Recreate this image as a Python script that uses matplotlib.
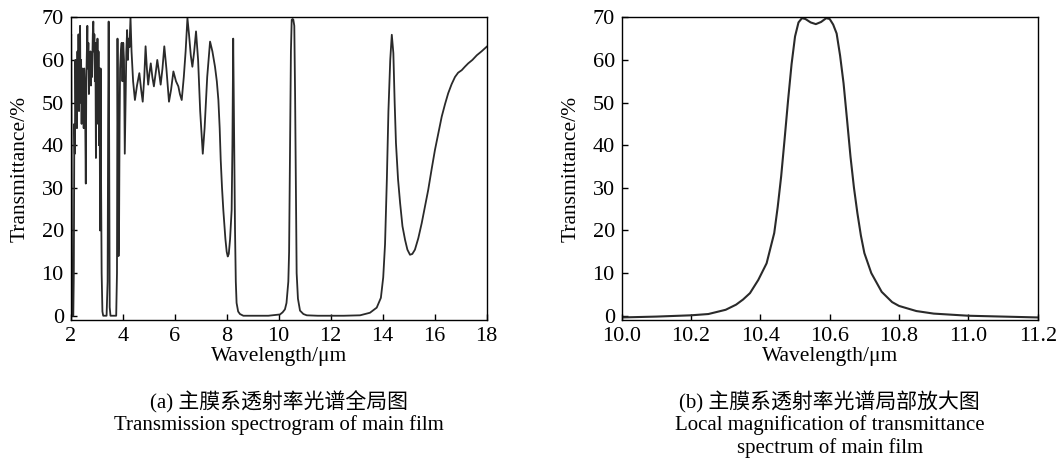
import matplotlib.pyplot as plt

plt.rcParams['font.family'] = ['Liberation Serif', 'Noto Sans CJK SC']

# (a) full spectrum, wavelength in um / transmittance in %
wl_full = [2.00, 2.02, 2.04, 2.06, 2.10, 2.12, 2.14, 2.16, 2.18, 2.20, 2.22, 2.24, 2.26, 2.28,
           2.30, 2.32, 2.34, 2.36, 2.38, 2.40, 2.42, 2.44, 2.46, 2.48, 2.50, 2.52, 2.55, 2.58,
           2.60, 2.62, 2.64, 2.66, 2.68, 2.70, 2.72, 2.74, 2.76, 2.78, 2.80, 2.82, 2.85, 2.87,
           2.89, 2.91, 2.93, 2.95, 2.97, 2.99, 3.01, 3.03, 3.05, 3.07, 3.09, 3.11, 3.13, 3.15,
           3.17, 3.19, 3.22, 3.25, 3.38, 3.42, 3.44, 3.46, 3.48, 3.50, 3.53, 3.75, 3.78, 3.80,
           3.82, 3.84, 3.86, 3.88, 3.90, 3.93, 3.96, 3.99, 4.02, 4.05, 4.08, 4.11, 4.14, 4.17,
           4.20, 4.23, 4.26, 4.30, 4.34, 4.40, 4.47, 4.55, 4.64, 4.71, 4.77, 4.83, 4.88, 4.93,
           4.98, 5.03, 5.08, 5.14, 5.20, 5.27, 5.33, 5.40, 5.46, 5.53, 5.60, 5.68, 5.78, 5.86,
           5.95, 6.05, 6.14, 6.20, 6.27, 6.35, 6.42, 6.49, 6.55, 6.62, 6.68, 6.75, 6.82, 6.90,
           6.98, 7.08, 7.15, 7.25, 7.36, 7.45, 7.55, 7.62, 7.68, 7.73, 7.77, 7.82, 7.87, 7.95,
           8.00, 8.04, 8.08, 8.13, 8.19, 8.22, 8.25, 8.28, 8.32, 8.35, 8.38, 8.44, 8.51, 8.64,
           9.00, 9.60, 10.05, 10.15, 10.24, 10.30, 10.37, 10.40, 10.43, 10.47, 10.50, 10.53,
           10.56, 10.60, 10.63, 10.66, 10.69, 10.74, 10.82, 10.95, 11.08, 11.50, 12.50, 13.13,
           13.51, 13.77, 13.93, 14.02, 14.09, 14.16, 14.22, 14.29, 14.35, 14.41, 14.46, 14.51,
           14.59, 14.67, 14.76, 14.86, 14.95, 15.05, 15.14, 15.24, 15.37, 15.50, 15.62, 15.75,
           15.88, 16.01, 16.14, 16.27, 16.40, 16.52, 16.65, 16.78, 16.90, 17.04, 17.16, 17.29,
           17.45, 17.62, 17.80, 18.00]
tr_full = [64, 66, 30, 0, 0, 10, 45, 38, 60, 48, 58, 44, 62, 50,
           66, 48, 56, 68, 50, 60, 45, 58, 48, 56, 44, 58, 52, 31,
           55, 62, 68, 58, 64, 52, 60, 55, 62, 54, 60, 56, 66, 69,
           62, 66, 55, 64, 37, 60, 50, 65, 45, 62, 40, 58, 20, 58,
           30, 10, 1, 0, 0, 8, 45, 69, 40, 2, 0, 0, 10, 65,
           40, 14, 20, 45, 58, 62, 64, 55, 64, 60, 38, 50, 62, 67,
           60, 65, 63, 70, 62, 55, 50.6, 54, 56.9, 53, 50.2, 56, 63.2, 58,
           54.2, 57, 59.2, 56, 53.8, 57, 60, 57, 54.2, 58, 63.2, 58, 50.2, 53,
           57.3, 55, 53.8, 52, 50.6, 56, 62, 69.8, 66, 61, 58.4, 62, 66.7, 60,
           48, 38, 44, 56, 64.3, 62, 58.4, 55, 50.6, 44, 36.5, 30, 24.8, 18,
           15, 13.9, 14.5, 18, 24.8, 40, 65, 45, 20, 8, 3, 1, 0.4, 0,
           0, 0, 0.3, 0.8, 1.5, 3, 8, 15, 35, 62, 69.4, 69.6,
           69.5, 68, 52, 30, 10, 4, 1.2, 0.4, 0.1, 0, 0, 0.1,
           0.7, 1.9, 4.2, 9, 16.8, 32, 48, 60, 65.9, 61.6, 50, 40.5,
           32, 26.4, 21, 17.8, 15.5, 14.3, 14.5, 15.5, 18.2, 21.7, 25.4, 29.5,
           34.3, 38.9, 42.8, 46.7, 49.7, 52.2, 54.3, 56, 57, 57.6, 58.4, 59.2,
           60, 61.1, 62, 63.1]

# (b) zoom around the 10.6 um pass band
wl_zoom = [10.00, 10.10, 10.20, 10.25, 10.30, 10.33, 10.35, 10.37, 10.394, 10.418, 10.44,
           10.45, 10.46, 10.47, 10.48, 10.49, 10.50, 10.51, 10.52, 10.53, 10.545, 10.56,
           10.575, 10.59, 10.60, 10.61, 10.62, 10.63, 10.64, 10.65, 10.66, 10.67, 10.68,
           10.69, 10.70, 10.72, 10.75, 10.78, 10.80, 10.85, 10.90, 11.00, 11.10, 11.20]
tr_zoom = [-0.4, -0.2, 0.1, 0.4, 1.4, 2.6, 3.8, 5.3, 8.4, 12.3, 19.4,
           25.5, 32.7, 41.5, 50.6, 59.0, 65.5, 68.8, 69.8, 69.6, 68.8, 68.4,
           68.9, 69.8, 69.6, 68.3, 66.2, 61.0, 54.5, 46.0, 37.3, 30.0, 24.0,
           18.8, 14.7, 10.0, 5.6, 3.2, 2.3, 1.1, 0.5, 0.0, -0.2, -0.4]

fig = plt.figure(figsize=(10.61, 4.66), dpi=100)
ax1 = fig.add_axes([70.7 / 1061, 1 - 320 / 466, 416 / 1061, 302.7 / 466])
ax2 = fig.add_axes([621.7 / 1061, 1 - 320 / 466, 416 / 1061, 302.7 / 466])

ax1.plot(wl_full, tr_full, color='#2a2a2a', lw=1.3)
ax2.plot(wl_zoom, tr_zoom, color='#2a2a2a', lw=1.5)

ax1.set_xlim(2, 18)
ax1.set_xticks(range(2, 19, 2))
ax2.set_xlim(10.0, 11.2)
ax2.set_xticks([10.0, 10.2, 10.4, 10.6, 10.8, 11.0, 11.2])
ax2.set_xticklabels(['10.0', '10.2', '10.4', '10.6', '10.8', '11.0', '11.2'])

for ax in (ax1, ax2):
    ax.set_ylim(-1, 70)
    ax.set_yticks(range(0, 71, 10))
    ax.tick_params(direction='in', length=4, width=1, labelsize=16, pad=5)
    ax.set_xlabel('Wavelength/μm', fontsize=15.5)
    ax.set_ylabel('Transmittance/%', fontsize=15.5)
    ax.xaxis.set_label_coords(0.5, -0.09)
    ax.yaxis.set_label_coords(-0.099, 0.5)
    for s in ax.spines.values():
        s.set_linewidth(1.0)
        s.set_color('black')

cap = dict(ha='center', va='center', fontsize=15)
fig.text(278.7 / 1061, 1 - 402 / 466, '(a) 主膜系透射率光谱全局图', **cap)
fig.text(278.7 / 1061, 1 - 425 / 466, 'Transmission spectrogram of main film', **cap)
fig.text(829.7 / 1061, 1 - 402 / 466, '(b) 主膜系透射率光谱局部放大图', **cap)
fig.text(829.7 / 1061, 1 - 425 / 466, 'Local magnification of transmittance', **cap)
fig.text(829.7 / 1061, 1 - 448 / 466, 'spectrum of main film', **cap)

fig.savefig('out.png', dpi=100)
